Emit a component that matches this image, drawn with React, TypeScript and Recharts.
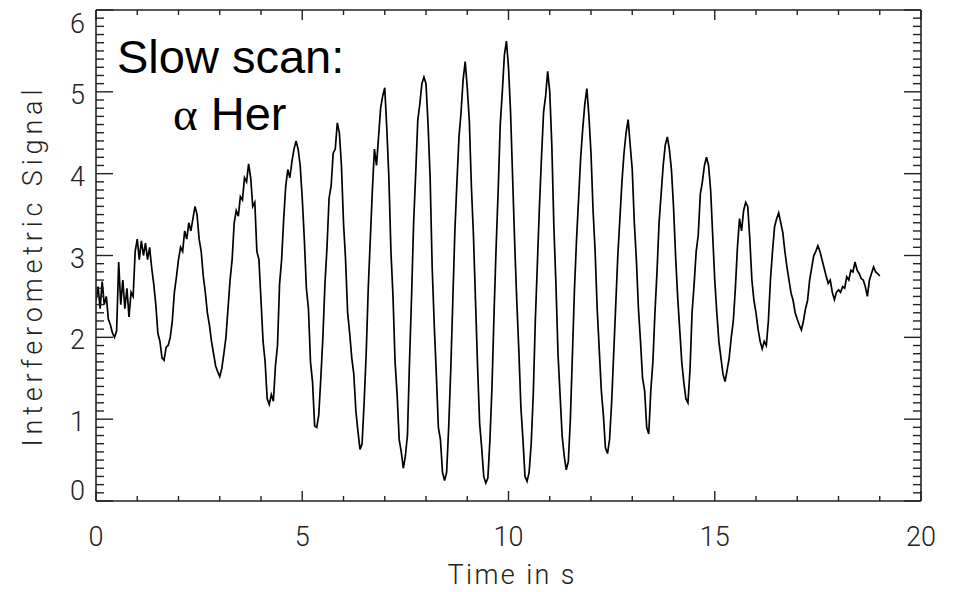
import React from "react";
import { LineChart, Line, XAxis, YAxis } from "recharts";

// Sampling interval of the recorded signal (seconds)
const SAMPLE_DT = 0.05;

// Interferometric signal, one value every 0.05 s (0 .. 19 s)
const SIGNAL: number[] = [
  2.45, 2.62, 2.35, 2.68, 2.4, 2.5, 2.22, 2.15, 2.05, 2.0,
  2.08, 2.92, 2.4, 2.7, 2.35, 2.6, 2.25, 2.55, 2.5, 3.05,
  3.2, 2.95, 3.18, 3.0, 3.15, 2.95, 3.1, 2.85, 2.65, 2.4,
  2.05, 1.95, 1.75, 1.72, 1.88, 1.9, 2.0, 2.2, 2.55, 2.74,
  2.95, 3.1, 3.05, 3.3, 3.2, 3.4, 3.3, 3.45, 3.6, 3.5,
  3.2, 3.05, 2.75, 2.55, 2.3, 2.15, 1.95, 1.8, 1.65, 1.58,
  1.52, 1.62, 1.8, 2.0, 2.35, 2.7, 2.95, 3.4, 3.55, 3.48,
  3.72, 3.68, 3.95, 3.9, 4.12, 3.95, 3.6, 3.65, 3.05, 2.95,
  2.45, 1.95, 1.7, 1.25, 1.18, 1.3, 1.22, 1.65, 1.9, 2.65,
  2.95, 3.45, 3.85, 4.05, 3.95, 4.15, 4.3, 4.4, 4.3, 4.1,
  3.7, 3.2, 2.6, 2.35, 1.7, 1.45, 0.92, 0.9, 1.05, 1.5,
  2.0, 2.65, 3.1, 3.7, 3.85, 4.25, 4.3, 4.62, 4.5, 4.1,
  3.4, 2.95, 2.3, 2.05, 1.75, 1.55, 1.1, 0.85, 0.63, 0.7,
  1.2, 1.8, 2.6, 3.2, 3.8, 4.3, 4.1, 4.45, 4.8, 4.95,
  5.05, 4.55, 3.95, 3.05, 2.5, 1.7, 1.3, 0.75, 0.6, 0.4,
  0.55, 0.8, 1.7, 2.5, 3.4, 4.0, 4.65, 4.85, 5.1, 5.18,
  5.1, 4.6, 3.95, 2.85, 2.15, 1.55, 0.9, 0.75, 0.35, 0.25,
  0.35, 0.9, 1.6, 2.45, 3.3, 3.9, 4.45, 4.75, 5.15, 5.37,
  5.05, 4.65, 3.85, 3.25, 2.45, 1.65, 0.95, 0.65, 0.3, 0.22,
  0.28, 0.75, 1.4, 2.3, 3.1, 3.8, 4.6, 5.0, 5.45, 5.62,
  5.3, 4.75, 3.95, 3.15, 2.45, 1.85, 1.15, 0.75, 0.3, 0.24,
  0.35, 0.7, 1.3, 2.2, 2.9, 3.6, 4.2, 4.75, 4.95, 5.25,
  5.0, 4.35, 3.35, 2.65, 1.8, 1.3, 0.8, 0.55, 0.38, 0.48,
  1.0, 1.8, 2.6, 3.2, 3.7, 4.2, 4.55, 4.85, 5.04, 4.7,
  4.25, 3.55, 3.05, 2.35, 1.85, 1.35, 1.05, 0.65, 0.58, 0.75,
  1.2, 1.8, 2.4, 3.0, 3.45, 3.9, 4.25, 4.5, 4.66, 4.35,
  4.05, 3.4, 2.95, 2.35, 1.95, 1.5, 1.35, 0.9, 0.82, 1.35,
  1.7, 2.3, 2.8, 3.4, 3.75, 4.1, 4.35, 4.45, 4.3, 4.05,
  3.6, 3.0, 2.5, 2.1, 1.7, 1.45, 1.25, 1.2, 1.6, 2.3,
  2.65, 3.05, 3.25, 3.75, 3.9, 4.1, 4.2, 4.1, 3.8, 3.25,
  2.7, 2.3, 1.95, 1.75, 1.55, 1.46, 1.6, 1.75, 2.0, 2.2,
  2.6, 3.1, 3.45, 3.3, 3.55, 3.65, 3.6, 3.2, 2.7, 2.45,
  2.3, 2.1, 1.95, 1.86, 1.95, 1.9, 2.2, 2.7, 3.05, 3.35,
  3.45, 3.52, 3.4, 3.28, 3.05, 2.86, 2.7, 2.54, 2.45, 2.3,
  2.22, 2.15, 2.09, 2.2, 2.35, 2.45, 2.7, 2.85, 3.0, 3.05,
  3.12, 3.05, 2.95, 2.85, 2.75, 2.66, 2.7, 2.55, 2.46, 2.55,
  2.58, 2.55, 2.62, 2.6, 2.74, 2.7, 2.82, 2.8, 2.92, 2.82,
  2.78, 2.72, 2.7, 2.62, 2.5, 2.7, 2.78, 2.86, 2.8, 2.78,
  2.75,
];

const X_DOMAIN: [number, number] = [0, 20];
const Y_DOMAIN: [number, number] = [0, 6];
const X_LABELS = [0, 5, 10, 15, 20];
const Y_LABELS = [0, 1, 2, 3, 4, 5, 6];
const X_MINOR_STEP = 1;
const Y_MINOR_STEP = 0.1;

const X_TITLE = "Time in s";
const Y_TITLE = "Interferometric Signal";
const NOTE_LINE1 = "Slow scan:";
const NOTE_GREEK = "\u03b1";
const NOTE_STAR = " Her";

const data = SIGNAL.map((v, i) => ({ t: +(i * SAMPLE_DT).toFixed(2), v }));

const X_TICKS = Array.from(
  { length: Math.round((X_DOMAIN[1] - X_DOMAIN[0]) / X_MINOR_STEP) + 1 },
  (_, i) => +(X_DOMAIN[0] + i * X_MINOR_STEP).toFixed(2)
);
const Y_TICKS = Array.from(
  { length: Math.round((Y_DOMAIN[1] - Y_DOMAIN[0]) / Y_MINOR_STEP) + 1 },
  (_, i) => +(Y_DOMAIN[0] + i * Y_MINOR_STEP).toFixed(2)
);

const W = 963;
const H = 592;
const AXIS_COLOR = "#222";
const TICK_FONT = "Roboto, 'Liberation Sans', sans-serif";
const TICK_SIZE = 27;
const TICK_COLOR = "#222";

const isMajor = (v: number, labels: number[]) =>
  labels.some((l) => Math.abs(l - v) < 1e-6);

function LeftTick(props: any) {
  const { x, y, payload } = props;
  const v = payload.value;
  const major = isMajor(v, Y_LABELS);
  const len = major ? 17 : 8;
  let dy = 3;
  if (Math.abs(v - Y_DOMAIN[0]) < 1e-6) dy = -10;
  if (Math.abs(v - Y_DOMAIN[1]) < 1e-6) dy = 13.5;
  return (
    <g>
      <line x1={x} x2={x + len} y1={y} y2={y} stroke={AXIS_COLOR} strokeWidth={1.4} />
      {major && (
        <text
          x={x - 11}
          y={y + dy}
          textAnchor="end"
          dominantBaseline="central"
          fontFamily={TICK_FONT}
          fontWeight={300}
          fontSize={TICK_SIZE}
          fill={TICK_COLOR}
        >
          {Math.round(v)}
        </text>
      )}
    </g>
  );
}

function RightTick(props: any) {
  const { x, y, payload } = props;
  const major = isMajor(payload.value, Y_LABELS);
  const len = major ? 17 : 8;
  return <line x1={x} x2={x - len} y1={y} y2={y} stroke={AXIS_COLOR} strokeWidth={1.4} />;
}

function BottomTick(props: any) {
  const { x, y, payload } = props;
  const v = payload.value;
  const major = isMajor(v, X_LABELS);
  const len = major ? 10 : 5;
  return (
    <g>
      <line x1={x} x2={x} y1={y} y2={y - len} stroke={AXIS_COLOR} strokeWidth={1.4} />
      {major && (
        <text
          x={x}
          y={y + 36}
          textAnchor="middle"
          dominantBaseline="central"
          fontFamily={TICK_FONT}
          fontWeight={300}
          fontSize={TICK_SIZE}
          fill={TICK_COLOR}
        >
          {Math.round(v)}
        </text>
      )}
    </g>
  );
}

function TopTick(props: any) {
  const { x, y, payload } = props;
  const major = isMajor(payload.value, X_LABELS);
  const len = major ? 10 : 5;
  return <line x1={x} x2={x} y1={y} y2={y + len} stroke={AXIS_COLOR} strokeWidth={1.4} />;
}

export default function App() {
  return (
    <div style={{ position: "absolute", left: 0, top: 0, width: W, height: H, background: "#fff" }}>
      <LineChart width={W} height={H} data={data} margin={{ top: 0, right: 0, bottom: 0, left: 0 }}>
        <XAxis
          xAxisId="bottom"
          dataKey="t"
          type="number"
          domain={X_DOMAIN}
          ticks={X_TICKS}
          interval={0}
          allowDataOverflow
          orientation="bottom"
          height={91}
          tickSize={0}
          tickMargin={0}
          tickLine={false}
          axisLine={{ stroke: AXIS_COLOR, strokeWidth: 1.6 }}
          tick={<BottomTick />}
        />
        <XAxis
          xAxisId="top"
          dataKey="t"
          type="number"
          domain={X_DOMAIN}
          ticks={X_TICKS}
          interval={0}
          allowDataOverflow
          orientation="top"
          height={10}
          tickSize={0}
          tickMargin={0}
          tickLine={false}
          axisLine={{ stroke: AXIS_COLOR, strokeWidth: 1.6 }}
          tick={<TopTick />}
        />
        <YAxis
          yAxisId="left"
          type="number"
          domain={Y_DOMAIN}
          ticks={Y_TICKS}
          interval={0}
          allowDataOverflow
          orientation="left"
          width={96}
          tickSize={0}
          tickMargin={0}
          tickLine={false}
          axisLine={{ stroke: AXIS_COLOR, strokeWidth: 1.6 }}
          tick={<LeftTick />}
        />
        <YAxis
          yAxisId="right"
          type="number"
          domain={Y_DOMAIN}
          ticks={Y_TICKS}
          interval={0}
          allowDataOverflow
          orientation="right"
          width={42}
          tickSize={0}
          tickMargin={0}
          tickLine={false}
          axisLine={{ stroke: AXIS_COLOR, strokeWidth: 1.6 }}
          tick={<RightTick />}
        />
        <Line
          xAxisId="bottom"
          yAxisId="left"
          type="linear"
          dataKey="v"
          stroke="#000"
          strokeWidth={1.7}
          dot={false}
          activeDot={false}
          isAnimationActive={false}
        />
      </LineChart>
      <svg
        width={W}
        height={H}
        style={{ position: "absolute", left: 0, top: 0, pointerEvents: "none" }}
      >
        <text
          transform="translate(33,268) rotate(-90)"
          textAnchor="middle"
          dominantBaseline="central"
          fontFamily={TICK_FONT}
          fontWeight={300}
          fontSize={TICK_SIZE}
          fill={TICK_COLOR}
          textLength={357}
          lengthAdjust="spacing"
        >
          {Y_TITLE}
        </text>
        <text
          x={511}
          y={575}
          textAnchor="middle"
          dominantBaseline="central"
          fontFamily={TICK_FONT}
          fontWeight={300}
          fontSize={TICK_SIZE}
          fill={TICK_COLOR}
          textLength={127}
          lengthAdjust="spacing"
        >
          {X_TITLE}
        </text>
        <text x={117} y={73} fontFamily="'Liberation Sans', Arial, sans-serif" fontSize={47} fill="#000">
          {NOTE_LINE1}
        </text>
        <text x={173} y={130} fontFamily="'Liberation Sans', Arial, sans-serif" fontSize={47} fill="#000">
          <tspan fontFamily="'Liberation Serif', 'Times New Roman', serif">{NOTE_GREEK}</tspan>
          <tspan>{NOTE_STAR}</tspan>
        </text>
      </svg>
    </div>
  );
}
